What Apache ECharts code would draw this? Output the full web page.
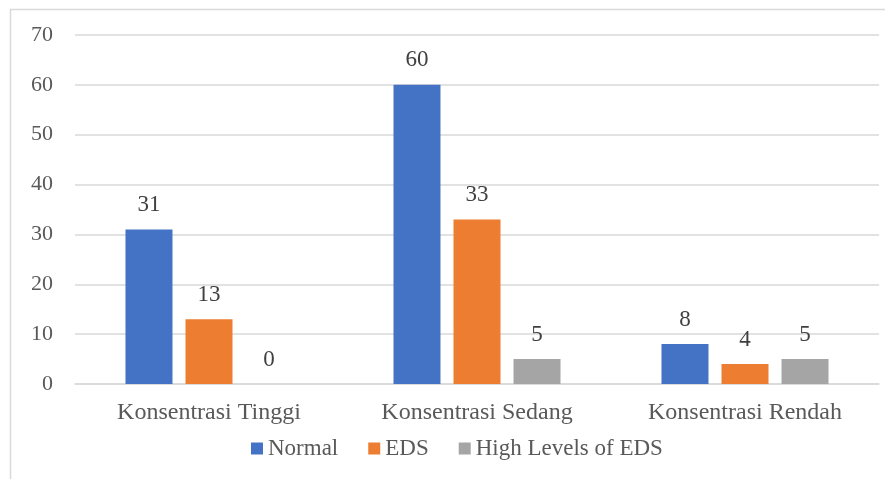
<!DOCTYPE html>
<html>
<head>
<meta charset="utf-8">
<script src="https://cdn.jsdelivr.net/npm/echarts@6/dist/echarts.min.js"></script>
<style>
  html, body { margin: 0; padding: 0; background: #fff; }
  #chart { width: 885px; height: 479px; }
</style>
</head>
<body>
<div id="chart"></div>
<script>
  const categories = ['Konsentrasi Tinggi', 'Konsentrasi Sedang', 'Konsentrasi Rendah'];
  const normal = [31, 60, 8];
  const eds = [13, 33, 4];
  const highEds = [0, 5, 5];

  const font = 'Liberation Serif';
  const chart = echarts.init(document.getElementById('chart'));

  const barLabel = {
    show: true,
    position: 'top',
    distance: 13,
    fontFamily: font,
    fontSize: 23,
    color: '#404040'
  };

  const option = {
    animation: false,
    color: ['#4472C4', '#ED7D31', '#A5A5A5'],
    textStyle: { fontFamily: font },
    graphic: [{
      type: 'rect',
      shape: { x: 10.5, y: 9.5, width: 900, height: 500 },
      style: { fill: 'none', stroke: '#d9d9d9', lineWidth: 1.5 },
      silent: true
    }],
    legend: {
      left: 251,
      top: 437,
      padding: 0,
      itemWidth: 12,
      itemHeight: 12,
      itemGap: 30,
      icon: 'rect',
      textStyle: { fontFamily: font, fontSize: 23, color: '#595959' },
      data: ['Normal', 'EDS', 'High Levels of EDS']
    },
    grid: { left: 75, right: 6, top: 35, bottom: 95 },
    xAxis: {
      type: 'category',
      data: categories,
      axisLine: { lineStyle: { color: '#d9d9d9', width: 1.5 } },
      axisTick: { show: false },
      axisLabel: { fontFamily: font, fontSize: 24, color: '#595959', margin: 17 }
    },
    yAxis: {
      type: 'value',
      min: 0,
      max: 70,
      interval: 10,
      axisLine: { show: false },
      axisTick: { show: false },
      splitLine: { lineStyle: { color: '#d9d9d9', width: 1.5 } },
      axisLabel: { fontFamily: font, fontSize: 22, color: '#595959', margin: 22 }
    },
    series: [
      { name: 'Normal', type: 'bar', data: normal, barWidth: 47, barGap: '27.7%', label: barLabel },
      { name: 'EDS', type: 'bar', data: eds, barWidth: 47, barGap: '27.7%', label: barLabel },
      { name: 'High Levels of EDS', type: 'bar', data: highEds, barWidth: 47, barGap: '27.7%', label: barLabel }
    ]
  };
  chart.setOption(option);
</script>
</body>
</html>
